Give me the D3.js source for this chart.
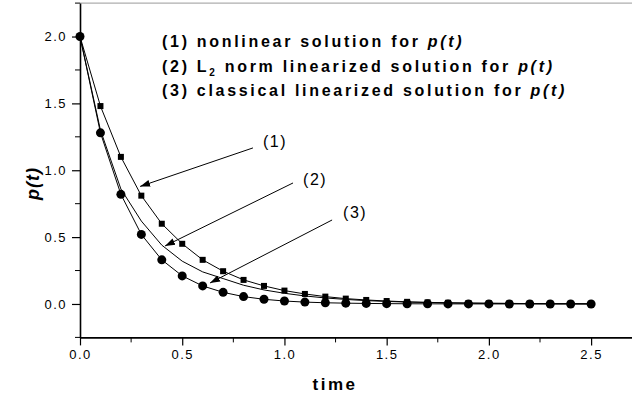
<!DOCTYPE html>
<html>
<head>
<meta charset="utf-8">
<script src="https://cdn.jsdelivr.net/npm/d3@7"></script>
<style>
  body { margin: 0; background: #fff; }
  svg { display: block; font-family: "Liberation Sans", Arial, sans-serif; }
</style>
</head>
<body>
<svg width="632" height="399"></svg>
<script>
// data
const time = [0, 0.1, 0.2, 0.3, 0.4, 0.5, 0.6, 0.7, 0.8, 0.9, 1.0, 1.1, 1.2,
  1.3, 1.4, 1.5, 1.6, 1.7, 1.8, 1.9, 2.0, 2.1, 2.2, 2.3, 2.4, 2.5];
const nonlinear = [2.0, 1.48, 1.10, 0.81, 0.60, 0.45, 0.33, 0.245, 0.18, 0.135,
  0.10, 0.075, 0.055, 0.04, 0.03, 0.022, 0.016, 0.012, 0.009, 0.007, 0.005,
  0.004, 0.003, 0.002, 0.0015, 0.001];
const l2norm = [2.0, 1.30, 0.86, 0.62, 0.44, 0.32, 0.24, 0.19, 0.14, 0.105,
  0.08, 0.06, 0.045, 0.034, 0.025, 0.019, 0.014, 0.011, 0.008, 0.006, 0.005,
  0.004, 0.003, 0.002, 0.002, 0.001];
const classical = [2.0, 1.28, 0.82, 0.52, 0.33, 0.21, 0.135, 0.087, 0.055,
  0.035, 0.022, 0.014, 0.009, 0.006, 0.004, 0.0025, 0.0015, 0.001, 0.0006,
  0.0004, 0.0003, 0.0002, 0.0001, 0.0001, 0, 0];

const xTicks = [0, 0.5, 1.0, 1.5, 2.0, 2.5];
const yTicks = [0, 0.5, 1.0, 1.5, 2.0];
const legendLines = ["(1) nonlinear solution for ", "(2) L", "(3) classical linearized solution for "];
// arrows: label, label pos, arrow start, arrow tip (data units)
const notes = [
  { label: "(1)", lx: 0.895, ly: 1.174, sx: 0.846, sy: 1.167, tx: 0.294, ty: 0.879 },
  { label: "(2)", lx: 1.091, ly: 0.89, sx: 1.042, sy: 0.905, tx: 0.416, ty: 0.434 },
  { label: "(3)", lx: 1.287, ly: 0.643, sx: 1.233, sy: 0.628, tx: 0.636, ty: 0.157 }
];

const svg = d3.select("svg");
const width = +svg.attr("width");

const x = d3.scaleLinear().domain([0, 2.7]).range([80, 632]);
const y = d3.scaleLinear().domain([-0.25, 2.25]).range([337.4, 3.1]);

// frame top line
svg.append("line")
  .attr("x1", x(0)).attr("x2", width)
  .attr("y1", y(2.25)).attr("y2", y(2.25))
  .attr("stroke", "#999").attr("stroke-width", 1);

// minor ticks
const xMinor = d3.range(0.25, 2.7, 0.5);
const yMinor = [-0.25, 0.25, 0.75, 1.25, 1.75, 2.25];

const xAxis = svg.append("g")
  .attr("transform", `translate(0,${y(-0.25)})`)
  .call(d3.axisBottom(x).tickValues(xTicks).tickFormat(d3.format(".1f"))
    .tickSize(8).tickSizeOuter(0).tickPadding(4));
xAxis.append("g").selectAll("line").data(xMinor).join("line")
  .attr("x1", d => x(d)).attr("x2", d => x(d))
  .attr("y1", 0).attr("y2", 5).attr("stroke", "#000");

const yAxis = svg.append("g")
  .attr("transform", `translate(${x(0)},0)`)
  .call(d3.axisLeft(y).tickValues(yTicks).tickFormat(d3.format(".1f"))
    .tickSize(8).tickSizeOuter(0).tickPadding(5));
yAxis.append("g").selectAll("line").data(yMinor).join("line")
  .attr("y1", d => y(d)).attr("y2", d => y(d))
  .attr("x1", 0).attr("x2", -5).attr("stroke", "#000");

svg.selectAll(".domain").attr("stroke-width", 1.6);
svg.selectAll(".tick line").attr("stroke-width", 1.2);
svg.selectAll(".tick text")
  .attr("font-size", 13).attr("fill", "#000")
  .attr("font-family", "Liberation Sans, Arial, sans-serif")
  .style("letter-spacing", "1.5px");

// axis titles
svg.append("text")
  .attr("x", 335).attr("y", 390)
  .attr("text-anchor", "middle")
  .attr("font-size", 17).attr("font-weight", "bold")
  .style("letter-spacing", "2.5px")
  .text("time");

svg.append("text")
  .attr("transform", `translate(39,${y(0.9)}) rotate(-90)`)
  .attr("text-anchor", "middle")
  .attr("font-size", 18).attr("font-weight", "bold").attr("font-style", "italic")
  .style("letter-spacing", "1px")
  .text("p(t)");

// curves
const series = [nonlinear, l2norm, classical];
const line = d3.line().x(d => x(d[0])).y(d => y(d[1]));
svg.append("g").selectAll("path")
  .data(series)
  .join("path")
  .attr("d", s => line(time.map((t, i) => [t, s[i]])))
  .attr("fill", "none")
  .attr("stroke", "#000")
  .attr("stroke-width", 1);

// markers
svg.append("g").selectAll("rect")
  .data(time.map((t, i) => [t, nonlinear[i]]))
  .join("rect")
  .attr("x", d => x(d[0]) - 3).attr("y", d => y(d[1]) - 3)
  .attr("width", 6).attr("height", 6)
  .attr("fill", "#000");

svg.append("g").selectAll("circle")
  .data(time.map((t, i) => [t, classical[i]]))
  .join("circle")
  .attr("cx", d => x(d[0])).attr("cy", d => y(d[1]))
  .attr("r", 4.5)
  .attr("fill", "#000");

// legend text
const legend = svg.append("g")
  .attr("font-size", 16).attr("font-weight", "bold")
  .style("letter-spacing", "2.7px");
const baselines = [47, 72, 96];
legendLines.forEach((s, i) => {
  const t = legend.append("text").attr("x", 162).attr("y", baselines[i]);
  t.append("tspan").text(s);
  if (i === 1) {
    t.append("tspan").attr("font-size", 10).attr("dy", 4).text("2");
    t.append("tspan").attr("dy", -4).text(" norm linearized solution for ");
  }
  t.append("tspan").attr("font-style", "italic").text("p(t)");
});

// arrows
svg.append("defs").append("marker")
  .attr("id", "head")
  .attr("viewBox", "0 0 10 10")
  .attr("refX", 10).attr("refY", 5)
  .attr("markerWidth", 10).attr("markerHeight", 10)
  .attr("markerUnits", "userSpaceOnUse")
  .attr("orient", "auto")
  .append("path").attr("d", "M0,1.5L10,5L0,8.5Z").attr("fill", "#000");

const ann = svg.append("g");
ann.selectAll("line").data(notes).join("line")
  .attr("x1", d => x(d.sx)).attr("y1", d => y(d.sy))
  .attr("x2", d => x(d.tx)).attr("y2", d => y(d.ty))
  .attr("stroke", "#000").attr("stroke-width", 1)
  .attr("marker-end", "url(#head)");
ann.selectAll("text").data(notes).join("text")
  .attr("x", d => x(d.lx)).attr("y", d => y(d.ly))
  .attr("font-size", 16)
  .style("letter-spacing", "1.5px")
  .text(d => d.label);
</script>
</body>
</html>
